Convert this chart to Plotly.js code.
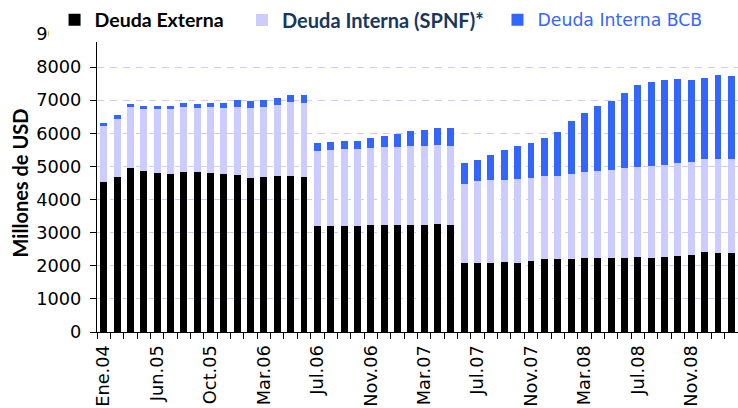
<!DOCTYPE html>
<html>
<head>
<meta charset="utf-8">
<script src="https://cdn.plot.ly/plotly-3.0.1.min.js"></script>
<style>html,body{margin:0;padding:0;background:#fff;}#chart{width:738px;height:408px;}</style>
</head>
<body>
<div id="chart"></div>
<script>
const categories = [
  "Ene.04","Dic.04","Abr.05","May.05","Jun.05","Jul.05","Ago.05","Sep.05",
  "Oct.05","Nov.05","Dic.05","Ene.06","Mar.06","Abr.06","May.06","Jun.06",
  "Jul.06","Ago.06","Sep.06","Oct.06","Nov.06","Dic.06","Ene.07","Feb.07",
  "Mar.07","Abr.07","May.07","Jun.07","Jul.07","Ago.07","Sep.07","Oct.07",
  "Nov.07","Dic.07","Ene.08","Feb.08","Mar.08","Abr.08","May.08","Jun.08",
  "Jul.08","Ago.08","Sep.08","Oct.08","Nov.08","Dic.08","Ene.09","Feb.09"
];
const tickLabels = ["Ene.04","Jun.05","Oct.05","Mar.06","Jul.06","Nov.06","Mar.07","Jul.07","Nov.07","Mar.08","Jul.08","Nov.08"];

const deudaExterna = [
  4530,4680,4960,4860,4800,4770,4830,4830,4800,4770,4740,4650,4680,4710,4710,4680,
  3190,3190,3190,3190,3220,3220,3220,3220,3220,3250,3220,
  2070,2070,2070,2100,2070,2130,2190,2190,2190,2250,2220,2250,2250,2280,2250,2280,2310,2340,2430,2400,2400
];
const deudaInternaSPNF = [
  1680,1740,1850,1890,1950,1980,1980,1950,2010,2010,2070,2130,2130,2160,2250,2250,
  2290,2320,2350,2350,2350,2380,2380,2410,2410,2410,2410,
  2415,2480,2510,2480,2540,2510,2510,2510,2570,2570,2630,2630,2690,2690,2750,2750,2780,2780,2780,2810,2840
];
const deudaInternaBCB = [
  90,120,90,90,90,90,110,120,120,150,190,190,190,210,210,240,
  240,240,240,240,300,330,390,450,480,510,540,
  605,630,780,930,1020,1080,1170,1355,1600,1780,1990,2110,2290,2500,2560,2590,2560,2500,2470,2560,2500
];

const seriesNames = ["Deuda Externa","Deuda Interna (SPNF)*","Deuda Interna BCB"];
const seriesColors = ["#000000","#ccccff","#3366ff"];

const traces = [deudaExterna, deudaInternaSPNF, deudaInternaBCB].map((vals, i) => ({
  type: "bar",
  x: categories,
  y: vals,
  name: seriesNames[i],
  marker: {color: seriesColors[i], line: {width: 0}},
  legend: i === 0 ? "legend" : (i === 1 ? "legend2" : "legend3"),
  hoverinfo: "x+y+name"
}));

const tickText = categories.map(c => tickLabels.includes(c) ? c : "");

const layout = {
  width: 738, height: 408,
  margin: {l: 97, r: 0, t: 34, b: 76, pad: 0},
  paper_bgcolor: "#ffffff", plot_bgcolor: "#ffffff",
  barmode: "stack",
  bargap: 0.48,
  showlegend: true,
  font: {family: "DejaVu Sans", size: 17, color: "#000"},
  xaxis: {
    type: "category",
    tickmode: "array", tickvals: categories, ticktext: tickText,
    tickson: "boundaries",
    ticks: "outside", ticklen: 6, tickcolor: "#000", tickwidth: 1,
    tickangle: -90, ticklabelstandoff: 5,
    tickfont: {family: "DejaVu Sans", size: 17.8, color: "#000"},
    showline: true, linecolor: "#000", linewidth: 1,
    showgrid: false, automargin: false, fixedrange: true
  },
  yaxis: {
    range: [0, 9000], tickmode: "linear", tick0: 0, dtick: 1000,
    ticks: "outside", ticklen: 6, tickcolor: "#000", tickwidth: 1,
    ticklabelstandoff: 5,
    tickfont: {family: "DejaVu Sans", size: 17.8, color: "#000"},
    showline: true, linecolor: "#000", linewidth: 1,
    showgrid: true, gridcolor: "#ccccff", gridwidth: 1, griddash: "7px,6px",
    zeroline: false, automargin: false, fixedrange: true,
    title: {text: "Millones de USD", font: {family: "Lato", size: 20, weight: "bold", color: "#000"}, standoff: 2}
  },
  legend: {
    x: -0.0662, y: 1.047, xanchor: "left", yanchor: "middle", orientation: "h",
    bgcolor: "rgba(0,0,0,0)", borderwidth: 0,
    font: {family: "Lato", size: 19.5, weight: "bold", color: "#000000"}
  },
  legend2: {
    x: 0.2262, y: 1.047, xanchor: "left", yanchor: "middle", orientation: "h",
    bgcolor: "rgba(0,0,0,0)", borderwidth: 0,
    font: {family: "Lato", size: 20, weight: "bold", color: "#17375e"}
  },
  legend3: {
    x: 0.6248, y: 1.047, xanchor: "left", yanchor: "middle", orientation: "h",
    bgcolor: "rgba(0,0,0,0)", borderwidth: 0,
    font: {family: "DejaVu Sans", size: 17.3, color: "#3366ff"}
  },
  shapes: [{
    type: "rect", xref: "paper", yref: "paper", layer: "above",
    x0: -0.0749, x1: 0.983, y0: 0.973, y1: 1.2,
    fillcolor: "#ffffff", line: {width: 0}
  }]
};

Plotly.newPlot("chart", traces, layout, {displayModeBar: false, staticPlot: true});
</script>
</body>
</html>
